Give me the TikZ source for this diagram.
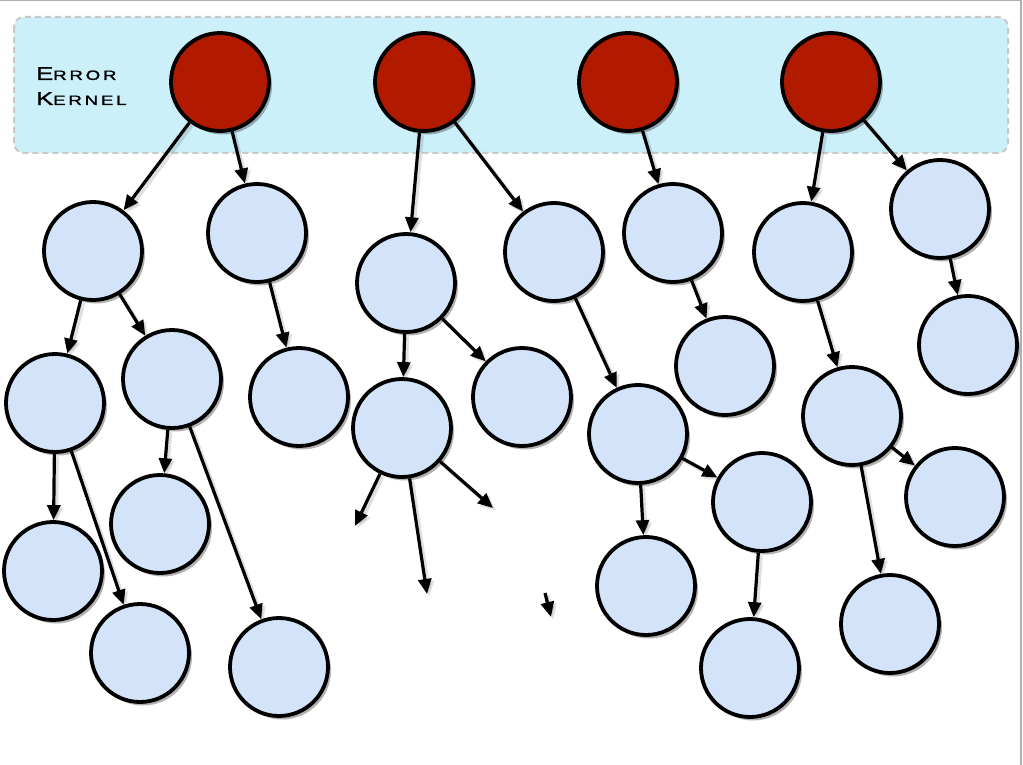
\documentclass[tikz,border=0pt]{standalone}
\usepackage{fontspec}
\usetikzlibrary{arrows.meta,shadows}
\newfontfamily\cpfont[LetterSpace=15,FakeBold=1.3]{Liberation Sans}
\definecolor{kernelfill}{RGB}{204,240,250}
\definecolor{kerneldash}{RGB}{200,200,200}
\definecolor{redfill}{RGB}{178,26,0}
\definecolor{bluefill}{RGB}{211,227,250}
\definecolor{framegray}{RGB}{175,175,175}
\newcommand{\capsword}[2]{{\fontsize{18.5}{25}\selectfont #1}{\fontsize{13.5}{25}\selectfont #2}}
\tikzset{
  procnode/.style={circle, draw=black, line width=3.8pt, minimum size=98pt, inner sep=0pt,
    drop shadow={shadow xshift=3pt, shadow yshift=-3.5pt, opacity=0.3, fill=black}},
  kernelproc/.style={procnode, fill=redfill},
  workerproc/.style={procnode, fill=bluefill},
  link/.style={line width=3.2pt, -{Triangle[length=15pt,width=13pt]},
    preaction={draw=black, opacity=0.12, line width=4pt, transform canvas={xshift=2.5pt,yshift=-2.5pt}}},
  kernelbox/.style={fill=kernelfill, draw=kerneldash, line width=2pt, dash pattern=on 6pt off 4pt, rounded corners=10pt},
  kernellabel/.style={anchor=north west, inner sep=0pt, align=left, font=\cpfont\fontsize{18.5}{25}\selectfont}
}
\begin{document}
\begin{tikzpicture}[x=1pt,y=-1pt]
\useasboundingbox (0,0) rectangle (1023,765);
\fill[white] (0,0) rectangle (1023,765);
\draw[framegray, line width=1.5pt] (0,0.75) -- (1021,0.75) -- (1021,765);
% error kernel band
\draw[kernelbox] (14,17) rectangle (1008,153);
\node[kernellabel] (lbl) at (36,67) {\scalebox{1.38}[1]{\capsword{E}{RROR}}\\\scalebox{1.38}[1]{\capsword{K}{ERNEL}}};
% kernel processes
\node[kernelproc] (r1) at (220,82) {};
\node[kernelproc] (r2) at (424,82) {};
\node[kernelproc] (r3) at (628,82) {};
\node[kernelproc] (r4) at (831,82) {};
% worker processes
\node[workerproc] (b1) at (93,251) {};
\node[workerproc] (b2) at (257,233) {};
\node[workerproc] (b3) at (55,403) {};
\node[workerproc] (b4) at (172,379) {};
\node[workerproc] (b5) at (299,397) {};
\node[workerproc] (b6) at (160,524) {};
\node[workerproc] (b7) at (53,571) {};
\node[workerproc] (b8) at (140,653) {};
\node[workerproc] (b9) at (279,667) {};
\node[workerproc] (b10) at (406,283) {};
\node[workerproc] (b11) at (554,252) {};
\node[workerproc] (b12) at (402,428) {};
\node[workerproc] (b13) at (522,397) {};
\node[workerproc] (b14) at (673,233) {};
\node[workerproc] (b15) at (725,366) {};
\node[workerproc] (b16) at (638,434) {};
\node[workerproc] (b17) at (762,502) {};
\node[workerproc] (b18) at (646,586) {};
\node[workerproc] (b19) at (750,668) {};
\node[workerproc] (b20) at (803,252) {};
\node[workerproc] (b21) at (940,209) {};
\node[workerproc] (b22) at (968,345) {};
\node[workerproc] (b23) at (852,416) {};
\node[workerproc] (b24) at (955,497) {};
\node[workerproc] (b25) at (890,624) {};
% free arrow ends
\coordinate (f1) at (355,526);
\coordinate (f2) at (427,594);
\coordinate (f3) at (493,508);
\coordinate (g0) at (545,593);
\coordinate (g1) at (551,617);
% connectors
\draw[link] (r1) -- (b1);
\draw[link] (r1) -- (b2);
\draw[link] (r2) -- (b10);
\draw[link] (r2) -- (b11);
\draw[link] (r3) -- (b14);
\draw[link] (r4) -- (b20);
\draw[link] (r4) -- (b21);
\draw[link] (b1) -- (b3);
\draw[link] (b1) -- (b4);
\draw[link] (b2) -- (b5);
\draw[link] (b3) -- (b7);
\draw[link] (b3) -- (b8);
\draw[link] (b4) -- (b6);
\draw[link] (b4) -- (b9);
\draw[link] (b10) -- (b12);
\draw[link] (b10) -- (b13);
\draw[link] (b12) -- (f1);
\draw[link] (b12) -- (f2);
\draw[link] (b12) -- (f3);
\draw[link] (g0) -- (g1);
\draw[link] (b11) -- (b16);
\draw[link] (b14) -- (b15);
\draw[link] (b16) -- (b18);
\draw[link] (b16) -- (b17);
\draw[link] (b17) -- (b19);
\draw[link] (b20) -- (b23);
\draw[link] (b21) -- (b22);
\draw[link] (b23) -- (b24);
\draw[link] (b23) -- (b25);
\end{tikzpicture}
\end{document}
